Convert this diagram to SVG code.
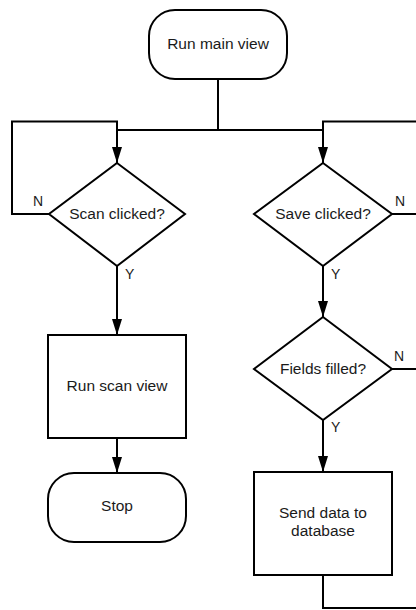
<svg xmlns="http://www.w3.org/2000/svg" width="416" height="610" viewBox="0 0 416 610">
<defs>
<style>
.s{fill:#fff;stroke:#000;stroke-width:2}
.c{fill:none;stroke:#000;stroke-width:2}
.t{font-family:"Liberation Sans",Arial,sans-serif;font-size:15.5px;fill:#1a1a1a;text-anchor:middle}
.l{font-family:"Liberation Sans",Arial,sans-serif;font-size:14px;fill:#1a1a1a}
</style>
<marker id="a" viewBox="0 0 16 10" refX="16" refY="5" markerWidth="16" markerHeight="10" markerUnits="userSpaceOnUse" orient="auto">
<path d="M0,0 L16,5 L0,10 Z" fill="#000"/>
</marker>
</defs>
<rect width="416" height="610" fill="#fff"/>
<g id="connectors">
<path class="c" d="M218,79 V130 M117,130 H323"/>
<path class="c" d="M117,130 V163" marker-end="url(#a)"/>
<path class="c" d="M323,130 V163" marker-end="url(#a)"/>
<path class="c" d="M49,214 H12 V121.5 H117 V130"/>
<path class="c" d="M416,121.5 H323 V130"/>
<path class="c" d="M392,214 H416"/>
<path class="c" d="M392,369 H416"/>
<path class="c" d="M323,575 V608 H416"/>
<path class="c" d="M117,266 V335" marker-end="url(#a)"/>
<path class="c" d="M117,438 V473" marker-end="url(#a)"/>
<path class="c" d="M323,266 V317" marker-end="url(#a)"/>
<path class="c" d="M323,420 V472" marker-end="url(#a)"/>
<text class="l" x="33" y="206">N</text>
<text class="l" x="125" y="279">Y</text>
<text class="l" x="395" y="206">N</text>
<text class="l" x="331" y="279">Y</text>
<text class="l" x="394" y="361">N</text>
<text class="l" x="331" y="432">Y</text>
</g>
<g id="run-main">
<rect class="s" x="149" y="10" width="138" height="69" rx="26"/>
<text class="t" x="218" y="49">Run main view</text>
</g>
<g id="scan-clicked">
<path class="s" d="M117,163 L185,214 L117,266 L49,214 Z"/>
<text class="t" x="117" y="219">Scan clicked?</text>
</g>
<g id="save-clicked">
<path class="s" d="M323,163 L392,214 L323,266 L254,214 Z"/>
<text class="t" x="323" y="219">Save clicked?</text>
</g>
<g id="run-scan">
<rect class="s" x="48" y="335" width="138" height="103"/>
<text class="t" x="117" y="391">Run scan view</text>
</g>
<g id="stop">
<rect class="s" x="48" y="473" width="138" height="69" rx="26"/>
<text class="t" x="117" y="511">Stop</text>
</g>
<g id="fields-filled">
<path class="s" d="M323,317 L392,369 L323,420 L254,369 Z"/>
<text class="t" x="323" y="374">Fields filled?</text>
</g>
<g id="send-data">
<rect class="s" x="254" y="472" width="138" height="103"/>
<text class="t" x="323" y="518">Send data to</text>
<text class="t" x="323" y="536">database</text>
</g>
</svg>
